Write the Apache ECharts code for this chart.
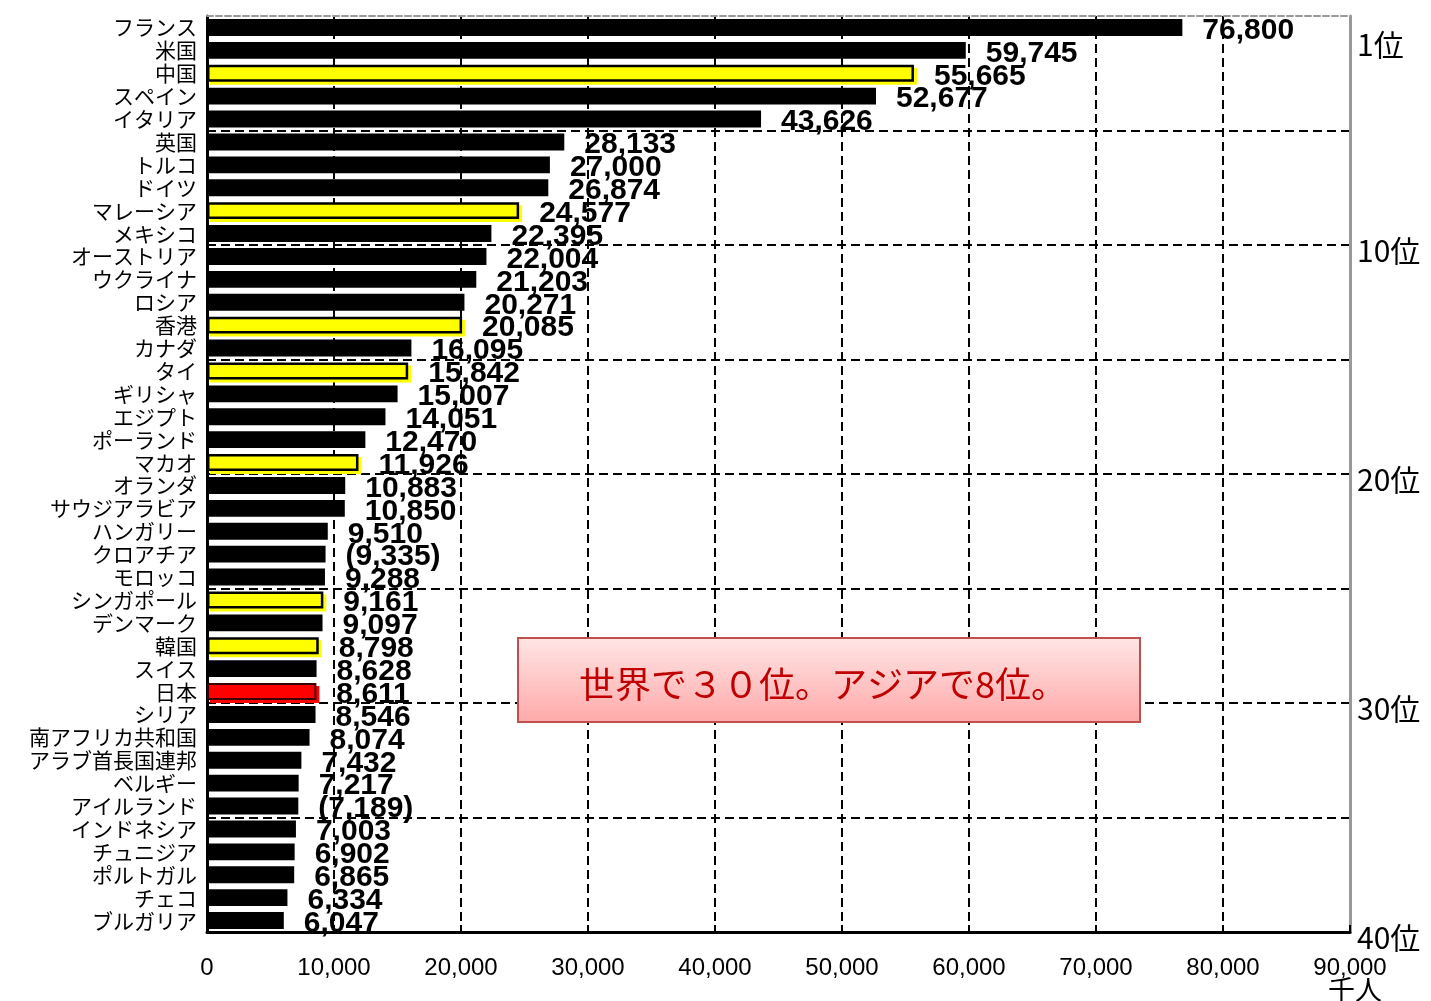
<!DOCTYPE html>
<html>
<head>
<meta charset="utf-8">
<script src="https://cdn.jsdelivr.net/npm/echarts@6/dist/echarts.min.js"></script>
<style>
html,body{margin:0;padding:0;background:#fff;}
#c{width:1431px;height:1001px;}
</style>
</head>
<body>
<div id="c"></div>
<script>
// ---- data ----
const countries = ['フランス','米国','中国','スペイン','イタリア','英国','トルコ','ドイツ','マレーシア','メキシコ',
  'オーストリア','ウクライナ','ロシア','香港','カナダ','タイ','ギリシャ','エジプト','ポーランド','マカオ',
  'オランダ','サウジアラビア','ハンガリー','クロアチア','モロッコ','シンガポール','デンマーク','韓国','スイス','日本',
  'シリア','南アフリカ共和国','アラブ首長国連邦','ベルギー','アイルランド','インドネシア','チュニジア','ポルトガル','チェコ','ブルガリア'];
const visitors = [76800,59745,55665,52677,43626,28133,27000,26874,24577,22395,
  22004,21203,20271,20085,16095,15842,15007,14051,12470,11926,
  10883,10850,9510,9335,9288,9161,9097,8798,8628,8611,
  8546,8074,7432,7217,7189,7003,6902,6865,6334,6047];
const asiaCountries = ['中国','マレーシア','香港','タイ','マカオ','シンガポール','韓国'];
const japan = '日本';
const estimated = ['クロアチア','アイルランド'];
const xTicks = [0,10000,20000,30000,40000,50000,60000,70000,80000,90000];
const rankTicks = [1,10,20,30,40];
const unitLabel = '千人';
const noteText = '世界で３０位。アジアで8位。';

// ---- chart ----
const chart = echarts.init(document.getElementById('c'));
const fmt = v => v.toString().replace(/\B(?=(\d{3})+(?!\d))/g, ',');

const barData = visitors.map((v, i) => {
  const name = countries[i];
  let style = {color: '#000000'};
  if (name === japan) {
    style = {color: '#ff0000', borderColor: '#3a0000', borderWidth: 2,
      shadowColor: '#ff0000', shadowOffsetX: 3, shadowOffsetY: 3, shadowBlur: 0};
  } else if (asiaCountries.includes(name)) {
    style = {color: '#ffff00', borderColor: '#000000', borderWidth: 2.5,
      shadowColor: '#ffff00', shadowOffsetX: 3, shadowOffsetY: 3, shadowBlur: 0};
  }
  return {value: v, itemStyle: style};
});

const option = {
  animation: false,
  backgroundColor: '#ffffff',
  grid: {left: 207, right: 81, top: 16, bottom: 69, containLabel: false},
  xAxis: [{
    type: 'value', min: 0, max: 90000, interval: 10000, position: 'bottom',
    axisLine: {show: true, onZero: false, lineStyle: {color: '#000', width: 3}},
    axisTick: {show: true, inside: true, length: 7, lineStyle: {color: '#000', width: 2}},
    axisLabel: {color: '#000', fontSize: 24, fontFamily: 'Liberation Sans', margin: 24,
      formatter: v => xTicks.includes(v) ? fmt(v) : ''},
    splitLine: {show: true, lineStyle: {color: '#000', width: 2, type: [9, 5]}}
  }, {
    type: 'value', min: 0, max: 90000, position: 'top',
    axisLine: {show: true, onZero: false, lineStyle: {color: '#999', width: 2, type: [6, 3]}},
    axisTick: {show: false}, axisLabel: {show: false}, splitLine: {show: false}
  }],
  yAxis: [{
    type: 'category', data: countries, inverse: true, position: 'left',
    axisLine: {show: true, onZero: false, lineStyle: {color: '#000', width: 3}},
    axisTick: {show: false},
    axisLabel: {interval: 0, color: '#000', fontSize: 21, fontFamily: 'Noto Sans CJK JP', margin: 10},
    splitLine: {show: true, interval: (i) => i % 5 === 0 && i > 0 && i < 40,
      lineStyle: {color: '#000', width: 2, type: [9, 5]}}
  }, {
    type: 'value', min: 0, max: 40, interval: 1, inverse: true, position: 'right',
    axisLine: {show: true, onZero: false, lineStyle: {color: '#999', width: 3}},
    axisTick: {show: false}, splitLine: {show: false},
    axisLabel: {color: '#000', fontSize: 30, fontFamily: 'Noto Sans CJK JP', margin: 7,
      verticalAlign: 'top', lineHeight: 12,
      formatter: v => rankTicks.includes(v) ? v + '位' : ''}
  }],
  series: [{
    type: 'bar', xAxisIndex: 0, yAxisIndex: 0,
    data: barData, barCategoryGap: '26%',
    label: {show: true, position: 'right', distance: 20, offset: [0, 3],
      color: '#000', fontSize: 30, fontWeight: 'bold', fontFamily: 'Liberation Sans',
      formatter: p => estimated.includes(countries[p.dataIndex]) ? '(' + fmt(p.value) + ')' : fmt(p.value)}
  }],
  graphic: [{
    type: 'rect', z: 100, x: 518, y: 638,
    shape: {x: 0, y: 0, width: 622, height: 84},
    style: {
      fill: {type: 'linear', x: 0, y: 0, x2: 0, y2: 1,
        colorStops: [{offset: 0, color: '#ffe6e6'}, {offset: 1, color: '#ffa9a9'}]},
      stroke: '#c0504d', lineWidth: 2
    }
  }, {
    type: 'text', z: 101, x: 823, y: 684,
    style: {text: noteText, fill: '#c00000', font: '36px "Noto Sans CJK JP"',
      align: 'center', verticalAlign: 'middle'}
  }, {
    type: 'text', z: 101, x: 1355, y: 990,
    style: {text: unitLabel, fill: '#000', font: '27px "Noto Sans CJK JP"',
      align: 'center', verticalAlign: 'middle'}
  }]
};
chart.setOption(option);
</script>
</body>
</html>
